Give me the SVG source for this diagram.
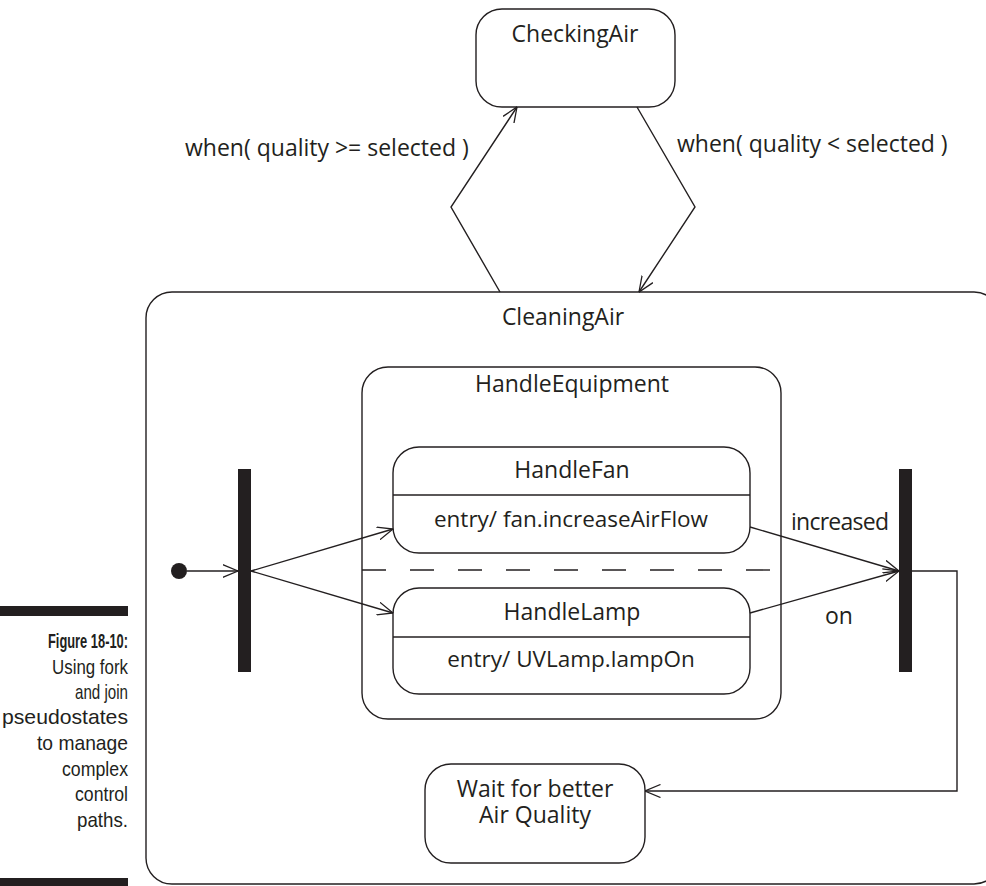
<svg xmlns="http://www.w3.org/2000/svg" width="986" height="886" viewBox="0 0 986 886">
  <style>
    .box { fill: #ffffff; stroke: #231f20; stroke-width: 1.4; }
    .line { fill: none; stroke: #231f20; stroke-width: 1.4; }
    .bar { fill: #231f20; }
    .lbl { font-family: "Open Sans", "Noto Sans", sans-serif; font-size: 23px; fill: #231f20; }
    .act { font-size: 22.5px; }
    .mid { text-anchor: middle; }
    .cap { font-family: "Liberation Sans", Arial, sans-serif; font-size: 21px; fill: #231f20; text-anchor: end; }
    .capb { font-weight: bold; }
  </style>
  <defs>
    <marker id="open" viewBox="0 0 16 14" refX="15.5" refY="7" markerWidth="16" markerHeight="14" markerUnits="userSpaceOnUse" orient="auto">
      <path d="M0,0.5 L15.5,7 L0,13.5" fill="none" stroke="#231f20" stroke-width="1.3"/>
    </marker>
  </defs>

  <rect width="986" height="886" fill="#ffffff"/>

  <!-- caption, condensed to fit the margin -->
  <g id="caption">
    <rect x="0" y="606" width="128" height="10" class="bar"/>
    <rect x="0" y="878" width="128" height="8" class="bar"/>
    <text x="128" y="648" class="cap capb" textLength="80" lengthAdjust="spacingAndGlyphs">Figure 18-10:</text>
    <text x="128" y="674" class="cap" textLength="76" lengthAdjust="spacingAndGlyphs">Using fork</text>
    <text x="128" y="699" class="cap" textLength="53" lengthAdjust="spacingAndGlyphs">and join</text>
    <text x="128" y="724" class="cap" textLength="126" lengthAdjust="spacingAndGlyphs">pseudostates</text>
    <text x="128" y="750" class="cap" textLength="91" lengthAdjust="spacingAndGlyphs">to manage</text>
    <text x="128" y="776" class="cap" textLength="66" lengthAdjust="spacingAndGlyphs">complex</text>
    <text x="128" y="801" class="cap" textLength="53" lengthAdjust="spacingAndGlyphs">control</text>
    <text x="128" y="827" class="cap" textLength="51" lengthAdjust="spacingAndGlyphs">paths.</text>
  </g>

  <g id="CheckingAir">
    <rect x="476" y="9" width="199" height="98" rx="26" class="box"/>
    <text x="575" y="42" class="lbl mid">CheckingAir</text>
  </g>

  <g id="CleaningAir">
    <rect x="146" y="292" width="854" height="592" rx="26" class="box"/>
    <text x="563" y="325" class="lbl mid">CleaningAir</text>
  </g>

  <g id="HandleEquipment">
    <rect x="362" y="367" width="419" height="352" rx="26" class="box"/>
    <text x="572" y="392" class="lbl mid">HandleEquipment</text>
    <!-- region separator -->
    <line x1="362" y1="570" x2="772" y2="570" class="line" stroke-dasharray="24 24"/>
  </g>

  <g id="HandleFan">
    <rect x="393" y="447" width="357" height="106" rx="26" class="box"/>
    <line x1="393" y1="495" x2="750" y2="495" class="line"/>
    <text x="572" y="478" class="lbl mid">HandleFan</text>
    <text x="571" y="527" class="lbl act mid">entry/ fan.increaseAirFlow</text>
  </g>

  <g id="HandleLamp">
    <rect x="393" y="588" width="357" height="106" rx="26" class="box"/>
    <line x1="393" y1="637" x2="750" y2="637" class="line"/>
    <text x="572" y="620" class="lbl mid">HandleLamp</text>
    <text x="571" y="667" class="lbl act mid">entry/ UVLamp.lampOn</text>
  </g>

  <g id="WaitForBetterAirQuality">
    <rect x="425" y="764" width="220" height="99" rx="26" class="box"/>
    <text class="lbl mid"><tspan x="535" y="797">Wait for better</tspan><tspan x="535" y="823">Air Quality</tspan></text>
  </g>

  <g id="initial">
    <circle cx="179" cy="571" r="8" class="bar"/>
  </g>

  <g id="fork">
    <rect x="238" y="469" width="13" height="203" class="bar"/>
  </g>

  <g id="join">
    <rect x="899" y="469" width="13" height="203" class="bar"/>
  </g>

  <g id="connectors">
    <path d="M500,292 L451,207 L517,107" class="line" marker-end="url(#open)"/>
    <path d="M637,107 L695,207 L639,292" class="line" marker-end="url(#open)"/>
    <path d="M187,571 L238,571" class="line" marker-end="url(#open)"/>
    <path d="M251,571 L393,529" class="line" marker-end="url(#open)"/>
    <path d="M251,571 L393,613" class="line" marker-end="url(#open)"/>
    <path d="M750,527 L899,571" class="line" marker-end="url(#open)"/>
    <path d="M750,613 L899,571" class="line" marker-end="url(#open)"/>
    <path d="M912,571 L957,571 L957,791 L645,791" class="line" marker-end="url(#open)"/>
    <text x="185" y="156" class="lbl">when( quality &gt;= selected )</text>
    <text x="677" y="152" class="lbl">when( quality &lt; selected )</text>
    <text x="791" y="530" class="lbl" textLength="98">increased</text>
    <text x="825" y="624" class="lbl">on</text>
  </g>
</svg>
